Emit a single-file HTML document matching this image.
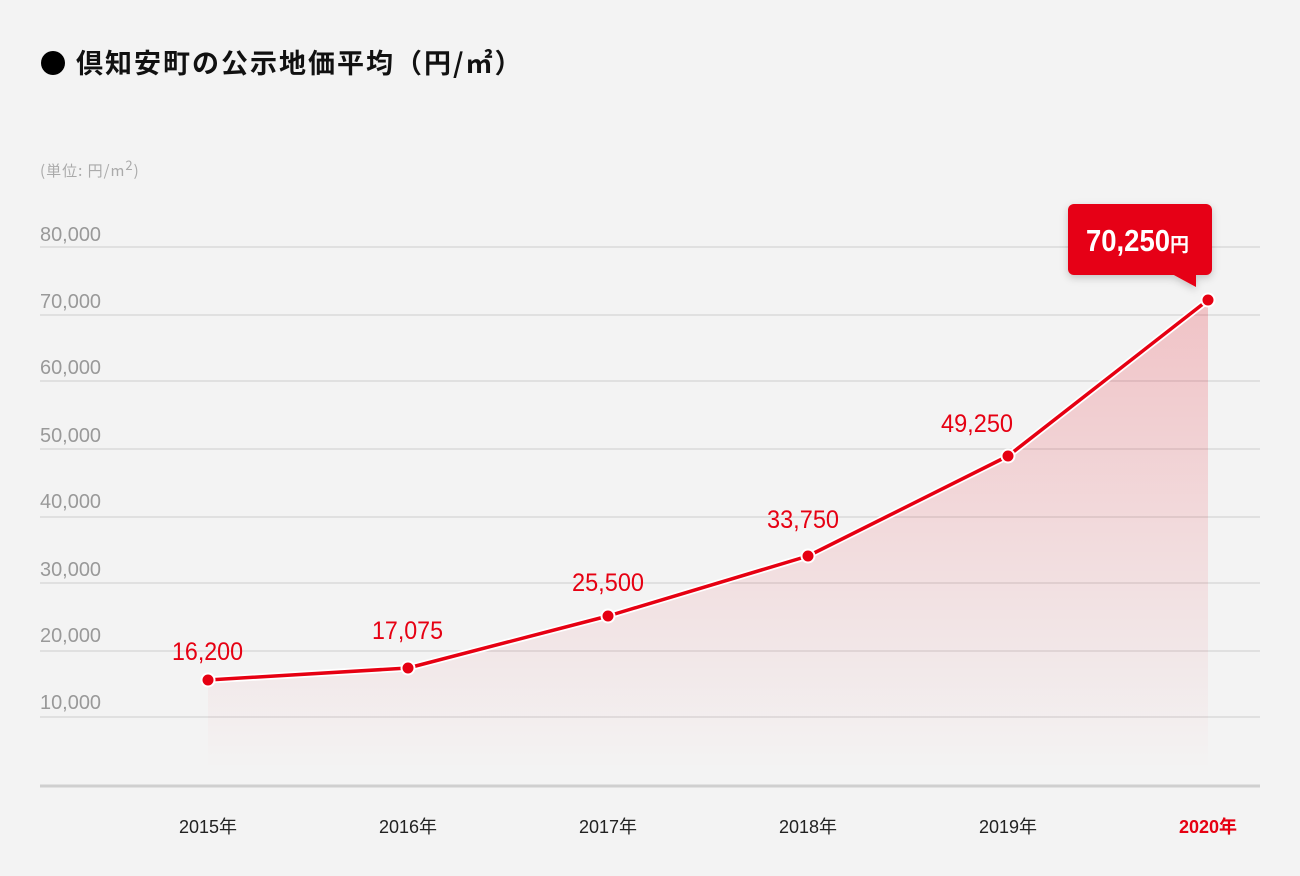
<!DOCTYPE html>
<html><head><meta charset="utf-8"><style>
body{margin:0;background:#f3f3f3;}
svg{display:block;font-family:"Liberation Sans","Noto Sans CJK JP",sans-serif;}
</style></head><body>
<svg width="1300" height="876" viewBox="0 0 1300 876">
<defs>
<linearGradient id="g" gradientUnits="userSpaceOnUse" x1="0" y1="300" x2="0" y2="770">
<stop offset="0" stop-color="#e60012" stop-opacity="0.2"/>
<stop offset="1" stop-color="#e60012" stop-opacity="0"/>
</linearGradient>
<filter id="sh" x="-20%" y="-20%" width="140%" height="150%"><feDropShadow dx="0" dy="3" stdDeviation="4" flood-color="#000" flood-opacity="0.2"/></filter>
</defs>
<rect width="1300" height="876" fill="#f3f3f3"/>
<circle cx="53" cy="63" r="12" fill="#000"/>
<text x="76" y="73" font-size="27" font-weight="bold" fill="#111" letter-spacing="2" font-family="'Noto Sans CJK JP',sans-serif">倶知安町の公示地価平均（円/㎡）</text>
<text x="40" y="176" font-size="15" fill="#aaa" letter-spacing="1" font-family="'Noto Sans CJK JP',sans-serif">(単位: 円/m<tspan dy="-6" font-size="13">2</tspan><tspan dy="6">)</tspan></text>
<g stroke="#d9d9d9" stroke-width="1.5">
<line x1="40" y1="247" x2="1260" y2="247"/><line x1="40" y1="315" x2="1260" y2="315"/>
<line x1="40" y1="381" x2="1260" y2="381"/><line x1="40" y1="449" x2="1260" y2="449"/>
<line x1="40" y1="517" x2="1260" y2="517"/><line x1="40" y1="583" x2="1260" y2="583"/>
<line x1="40" y1="651" x2="1260" y2="651"/><line x1="40" y1="717" x2="1260" y2="717"/>
</g>
<line x1="40" y1="786" x2="1260" y2="786" stroke="#cfcfcf" stroke-width="3"/>
<g font-size="20" fill="#999" lengthAdjust="spacingAndGlyphs">
<text x="40" y="241" textLength="61" lengthAdjust="spacingAndGlyphs">80,000</text><text x="40" y="308" textLength="61" lengthAdjust="spacingAndGlyphs">70,000</text><text x="40" y="374" textLength="61" lengthAdjust="spacingAndGlyphs">60,000</text>
<text x="40" y="442" textLength="61" lengthAdjust="spacingAndGlyphs">50,000</text><text x="40" y="508" textLength="61" lengthAdjust="spacingAndGlyphs">40,000</text><text x="40" y="576" textLength="61" lengthAdjust="spacingAndGlyphs">30,000</text>
<text x="40" y="642" textLength="61" lengthAdjust="spacingAndGlyphs">20,000</text><text x="40" y="709" textLength="61" lengthAdjust="spacingAndGlyphs">10,000</text>
</g>
<polygon points="208,680 408,668 608,616 808,556 1008,456 1208,300 1208,770 208,770" fill="url(#g)"/>
<polyline points="208,680 408,668 608,616 808,556 1008,456 1208,300" fill="none" stroke="#fff" stroke-width="7" stroke-linejoin="round"/>
<polyline points="208,680 408,668 608,616 808,556 1008,456 1208,300" fill="none" stroke="#e60012" stroke-width="3.5" stroke-linejoin="round"/>
<g fill="#e60012" stroke="#fff" stroke-width="2">
<circle cx="208" cy="680" r="6.5"/><circle cx="408" cy="668" r="6.5"/><circle cx="608" cy="616" r="6.5"/>
<circle cx="808" cy="556" r="6.5"/><circle cx="1008" cy="456" r="6.5"/><circle cx="1208" cy="300" r="6.5"/>
</g>
<g font-size="25" fill="#e60012">
<text x="172" y="660" textLength="71" lengthAdjust="spacingAndGlyphs">16,200</text><text x="372" y="639" textLength="71" lengthAdjust="spacingAndGlyphs">17,075</text><text x="572" y="591" textLength="72" lengthAdjust="spacingAndGlyphs">25,500</text>
<text x="767" y="528" textLength="72" lengthAdjust="spacingAndGlyphs">33,750</text><text x="941" y="432" textLength="72" lengthAdjust="spacingAndGlyphs">49,250</text>
</g>
<g filter="url(#sh)">
<rect x="1068" y="204" width="144" height="71" rx="6" fill="#e60012"/>
<polygon points="1172,274 1196,274 1196,287" fill="#e60012"/>
</g>
<text x="1086" y="251" font-size="31" font-weight="bold" fill="#fff"><tspan textLength="84" lengthAdjust="spacingAndGlyphs">70,250</tspan><tspan font-size="19" font-family="'Noto Sans CJK JP',sans-serif">円</tspan></text>
<g font-size="18" fill="#222" text-anchor="middle" font-family="'Liberation Sans','Noto Sans CJK JP',sans-serif">
<text x="208" y="833">2015年</text><text x="408" y="833">2016年</text><text x="608" y="833">2017年</text>
<text x="808" y="833">2018年</text><text x="1008" y="833">2019年</text>
<text x="1208" y="833" fill="#e60012" font-weight="bold">2020年</text>
</g>
</svg>
</body></html>
